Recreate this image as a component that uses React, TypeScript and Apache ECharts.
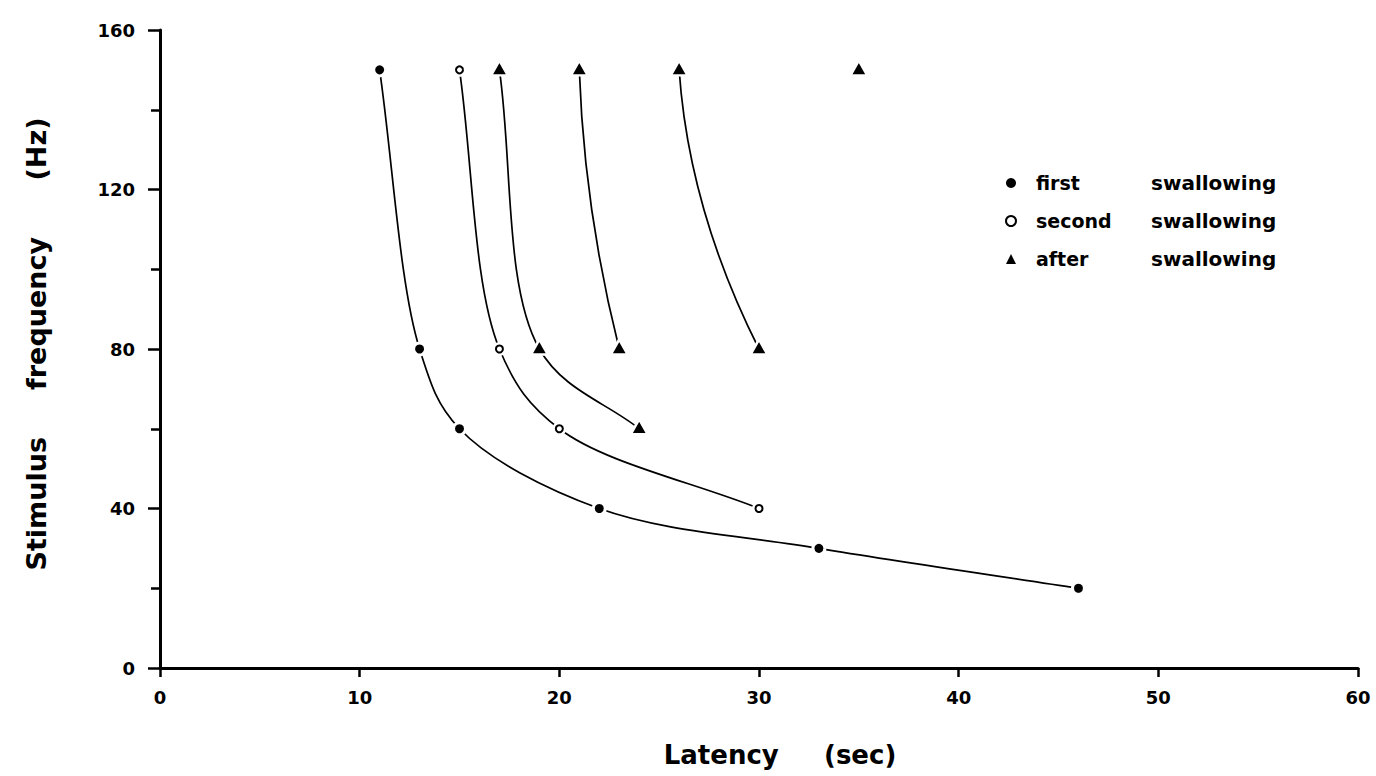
import React, { useEffect, useRef } from "react";
import * as echarts from "echarts";

// ---- data ----
const firstSwallowing: number[][] = [[11, 150], [13, 80], [15, 60], [22, 40], [33, 30], [46, 20]];
const secondSwallowing: number[][] = [[15, 150], [17, 80], [20, 60], [30, 40]];
const afterCurveA: number[][] = [[17, 150], [19, 80], [24, 60]];
const afterCurveB: number[][] = [[21, 150], [23, 80]];
const afterCurveC: number[][] = [[26, 150], [30, 80]];
const afterSingle: number[][] = [[35, 150]];
const legendNames = ["first swallowing", "second swallowing", "after swallowing"];
const xTitle = "Latency     (sec)";
const yTitle = "Stimulus     frequency      (Hz)";
const xRange = [0, 60];
const yRange = [0, 160];

const afterSwallowing = [...afterCurveA, ...afterCurveB, ...afterCurveC, ...afterSingle];
const curves = [firstSwallowing, secondSwallowing, afterCurveA, afterCurveB, afterCurveC];
// one record per point: [x, y, curve index, point index]
const curvePoints = curves.flatMap((c, ci) => c.map((p, pi) => [p[0], p[1], ci, pi]));

const FONT = "DejaVu Sans";

type Pt = number[];
function cpFor(p0: Pt, p1: Pt, p2: Pt, p3: Pt) {
  // centripetal Catmull-Rom segment p1->p2 as cubic bezier control points
  const dist = (a: Pt, b: Pt) => Math.pow(Math.hypot(b[0] - a[0], b[1] - a[1]), 0.5) || 1e-6;
  const d1 = dist(p0, p1), d2 = dist(p1, p2), d3 = dist(p2, p3);
  const c1 = [0, 1].map(
    (k) => (d1 * d1 * p2[k] - d2 * d2 * p0[k] + (2 * d1 * d1 + 3 * d1 * d2 + d2 * d2) * p1[k]) / (3 * d1 * (d1 + d2))
  );
  const c2 = [0, 1].map(
    (k) => (d3 * d3 * p1[k] - d2 * d2 * p3[k] + (2 * d3 * d3 + 3 * d3 * d2 + d2 * d2) * p2[k]) / (3 * d3 * (d3 + d2))
  );
  return { c1, c2 };
}

export default function App() {
  const ref = useRef<HTMLDivElement>(null);
  useEffect(() => {
    if (!ref.current) return;
    const chart = echarts.init(ref.current, null, { renderer: "svg" });
    chart.setOption({
      animation: false,
      backgroundColor: "#fff",
      grid: { left: 160, right: 18, top: 30, bottom: 108 },
      xAxis: {
        type: "value",
        min: xRange[0],
        max: xRange[1],
        interval: 10,
        splitLine: { show: false },
        axisLine: { show: true, lineStyle: { color: "#000", width: 3 } },
        axisTick: { show: true, inside: false, length: 9, lineStyle: { color: "#000", width: 2.5 } },
        axisLabel: { color: "#000", fontFamily: FONT, fontWeight: "bold", fontSize: 18, margin: 20 },
        name: xTitle,
        nameLocation: "middle",
        nameGap: 74,
        nameTextStyle: { color: "#000", fontFamily: FONT, fontWeight: "bold", fontSize: 26, padding: [0, 0, 0, 42] },
      },
      yAxis: {
        type: "value",
        min: yRange[0],
        max: yRange[1],
        interval: 40,
        splitLine: { show: false },
        axisLine: { show: true, lineStyle: { color: "#000", width: 3 } },
        axisTick: { show: true, inside: false, length: 12, lineStyle: { color: "#000", width: 2.5 } },
        minorTick: { show: true, splitNumber: 2, length: 9, lineStyle: { color: "#000", width: 2.5 } },
        minorSplitLine: { show: false },
        axisLabel: { color: "#000", fontFamily: FONT, fontWeight: "bold", fontSize: 18, margin: 25 },
        name: yTitle,
        nameLocation: "middle",
        nameRotate: 90,
        nameGap: 110,
        nameTextStyle: { color: "#000", fontFamily: FONT, fontWeight: "bold", fontSize: 27, padding: [0, 0, 0, 10] },
      },
      legend: {
        orient: "vertical",
        left: 1000,
        top: 168,
        itemWidth: 10,
        itemHeight: 10,
        itemGap: 18,
        selectedMode: false,
        data: [
          { name: legendNames[0], icon: "circle", itemStyle: { color: "#000", borderWidth: 0 } },
          { name: legendNames[1], icon: "circle", itemStyle: { color: "#fff", borderColor: "#000", borderWidth: 2 } },
          { name: legendNames[2], icon: "triangle", itemStyle: { color: "#000", borderWidth: 0 } },
        ],
        formatter: (name: string) => {
          const [a, b] = name.split(" ");
          return `{a|${a}}{b|${b}}`;
        },
        textStyle: {
          color: "#000",
          fontFamily: FONT,
          fontWeight: "bold",
          fontSize: 20,
          rich: {
            a: { width: 115, padding: [0, 0, 0, 15], fontFamily: FONT, fontWeight: "bold", fontSize: 19, color: "#000" },
            b: { fontFamily: FONT, fontWeight: "bold", fontSize: 20, color: "#000" },
          },
        },
      },
      series: [
        {
          type: "custom",
          name: "curves",
          data: curvePoints,
          encode: { x: 0, y: 1 },
          silent: true,
          renderItem: (_p: any, api: any) => {
            const ci = api.value(2);
            const pi = api.value(3);
            const c = curves[ci];
            if (pi >= c.length - 1) return null;
            const P = (i: number) => api.coord(c[i]);
            const p1 = P(pi);
            const p2 = P(pi + 1);
            let cp1: number[], cp2: number[];
            if (c.length === 2) {
              // gentle bow: quadratic control point expressed as cubic
              const q = [p1[0] + 0.12 * (p2[0] - p1[0]), (p1[1] + p2[1]) / 2];
              cp1 = [p1[0] + (2 / 3) * (q[0] - p1[0]), p1[1] + (2 / 3) * (q[1] - p1[1])];
              cp2 = [p2[0] + (2 / 3) * (q[0] - p2[0]), p2[1] + (2 / 3) * (q[1] - p2[1])];
            } else {
              const p0 = pi > 0 ? P(pi - 1) : [2 * p1[0] - p2[0], 2 * p1[1] - p2[1]];
              const p3 = pi + 2 < c.length ? P(pi + 2) : [2 * p2[0] - p1[0], 2 * p2[1] - p1[1]];
              const r = cpFor(p0, p1, p2, p3);
              cp1 = r.c1;
              cp2 = r.c2;
            }
            return {
              type: "bezierCurve",
              shape: { x1: p1[0], y1: p1[1], x2: p2[0], y2: p2[1], cpx1: cp1[0], cpy1: cp1[1], cpx2: cp2[0], cpy2: cp2[1] },
              style: { stroke: "#000", lineWidth: 1.7, fill: null },
            };
          },
        },
        {
          type: "scatter",
          name: legendNames[0],
          data: firstSwallowing,
          symbol: "circle",
          symbolSize: 12,
          itemStyle: { color: "#000", borderColor: "#fff", borderWidth: 3, opacity: 1 },
        },
        {
          type: "scatter",
          name: "mask2",
          data: secondSwallowing,
          symbol: "circle",
          symbolSize: 14,
          itemStyle: { color: "#fff", opacity: 1 },
          silent: true,
        },
        {
          type: "scatter",
          name: legendNames[1],
          data: secondSwallowing,
          symbol: "circle",
          symbolSize: 7,
          itemStyle: { color: "#fff", borderColor: "#000", borderWidth: 2, opacity: 1 },
        },
        {
          type: "scatter",
          name: legendNames[2],
          data: afterSwallowing,
          symbol: "triangle",
          symbolSize: [17, 15],
          symbolOffset: [0, -2],
          itemStyle: { color: "#000", borderColor: "#fff", borderWidth: 2.5, opacity: 1 },
        },
      ],
    });
    return () => chart.dispose();
  }, []);
  return <div ref={ref} style={{ position: "fixed", left: 0, top: 0, width: 1376, height: 776 }} />;
}
